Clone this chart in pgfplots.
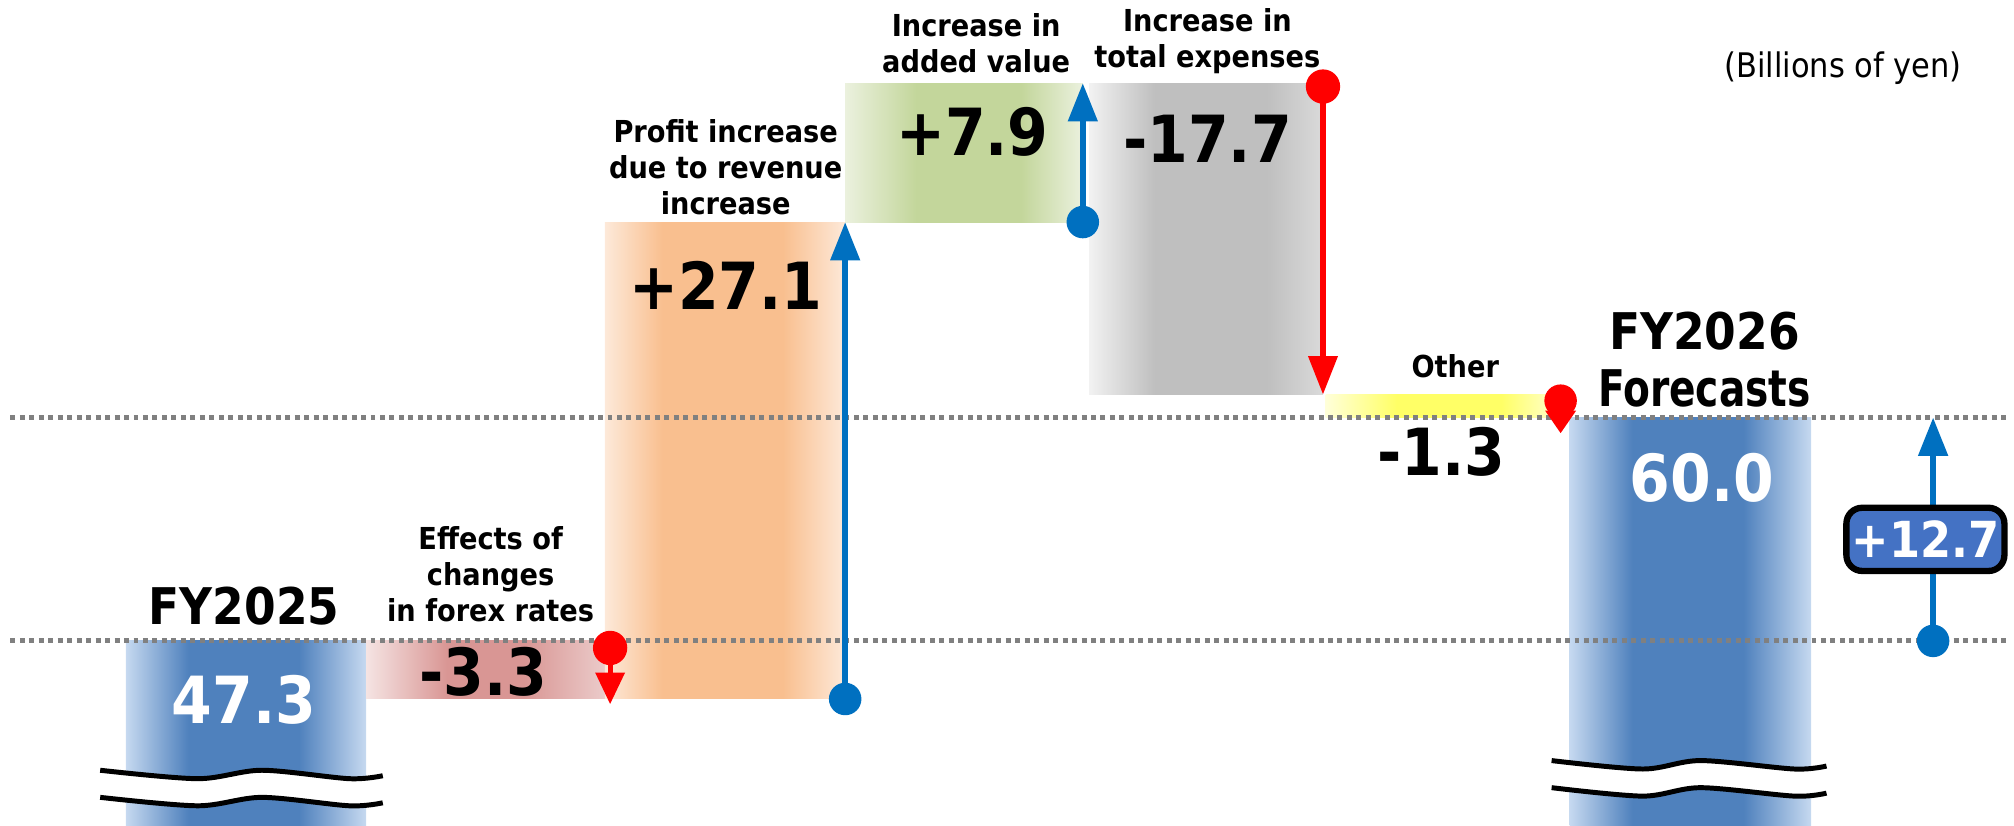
\documentclass[border=0pt]{standalone}
\usepackage{pgfplots}
\pgfplotsset{compat=1.18}
\usetikzlibrary{arrows.meta}
\usepackage{fontspec}
\setmainfont{DejaVu Sans Condensed}[BoldFont={DejaVu Sans Condensed Bold}]

\definecolor{blueD}{HTML}{4F81BD}\definecolor{blueL}{HTML}{C6D9F0}
\definecolor{orD}{HTML}{F9BF8F}\definecolor{orL}{HTML}{FDE9D9}
\definecolor{pkD}{HTML}{D99694}\definecolor{pkL}{HTML}{F5E4E3}\definecolor{pkR}{HTML}{EBCBCA}
\definecolor{grD}{HTML}{C3D69B}\definecolor{grL}{HTML}{EBF1DE}
\definecolor{gyD}{HTML}{BFBFBF}\definecolor{gyL}{HTML}{F2F2F2}\definecolor{gyR}{HTML}{DADADA}
\definecolor{ylD}{HTML}{FFFF66}\definecolor{ylL}{HTML}{FFFFD9}
\definecolor{arrB}{HTML}{0070C0}
\definecolor{arrR}{HTML}{FF0000}
\definecolor{boxB}{HTML}{4472C4}
\definecolor{dotG}{HTML}{808080}

\pgfdeclarehorizontalshading{shBlue}{100bp}{color(0bp)=(blueL); color(25bp)=(blueL); color(38bp)=(blueD); color(61bp)=(blueD); color(75bp)=(blueL); color(100bp)=(blueL)}
\pgfdeclarehorizontalshading{shOr}{100bp}{color(0bp)=(orL); color(25bp)=(orL); color(37bp)=(orD); color(62bp)=(orD); color(75bp)=(orL); color(100bp)=(orL)}
\pgfdeclarehorizontalshading{shPk}{100bp}{color(0bp)=(pkL); color(25bp)=(pkL); color(42bp)=(pkD); color(58bp)=(pkD); color(75bp)=(pkR); color(100bp)=(pkR)}
\pgfdeclarehorizontalshading{shGr}{100bp}{color(0bp)=(grL); color(25bp)=(grL); color(40bp)=(grD); color(62bp)=(grD); color(75bp)=(grL); color(100bp)=(grL)}
\pgfdeclarehorizontalshading{shGy}{100bp}{color(0bp)=(gyL); color(25bp)=(gyL); color(39bp)=(gyD); color(63bp)=(gyD); color(75bp)=(gyR); color(100bp)=(gyR)}
\pgfdeclarehorizontalshading{shYl}{100bp}{color(0bp)=(ylL); color(25bp)=(ylL); color(40bp)=(ylD); color(62bp)=(ylD); color(75bp)=(ylL); color(100bp)=(ylL)}

\newcommand{\lbl}{\bfseries\fontsize{6.7}{8}\selectfont}
\newcommand{\numf}{\bfseries\fontsize{14.4}{16}\selectfont}
\newcommand{\fyf}{\bfseries\fontsize{11.2}{12.5}\selectfont}

\begin{document}
\begin{tikzpicture}
\begin{axis}[scale only axis, width=15.68cm, height=6.43cm,
  xmin=0, xmax=1568, ymin=36.79, ymax=83.72, hide axis]
% bars (x in layout units, y in billions of yen)
\addplot[draw=none, shade, shading=shBlue] coordinates {(98,36.79) (285,36.79) (285,47.3) (98,47.3)} -- cycle;
\addplot[draw=none, shade, shading=shPk] coordinates {(285,44.0) (471,44.0) (471,47.3) (285,47.3)} -- cycle;
\addplot[draw=none, shade, shading=shOr] coordinates {(471,44.0) (658,44.0) (658,71.1) (471,71.1)} -- cycle;
\addplot[draw=none, shade, shading=shGr] coordinates {(658,71.1) (843,71.1) (843,79.0) (658,79.0)} -- cycle;
\addplot[draw=none, shade, shading=shGy] coordinates {(848,61.3) (1030,61.3) (1030,79.0) (848,79.0)} -- cycle;
\addplot[draw=none, shade, shading=shYl] coordinates {(1032,60.0) (1217,60.0) (1217,61.3) (1032,61.3)} -- cycle;
\addplot[draw=none, shade, shading=shBlue] coordinates {(1222,36.79) (1410,36.79) (1410,60.0) (1222,60.0)} -- cycle;
% reference levels
\addplot[dotG, line width=1.1pt, dash pattern=on 1.1pt off 1pt] coordinates {(8,47.3) (1565,47.3)};
\addplot[dotG, line width=1.1pt, dash pattern=on 1.1pt off 1pt] coordinates {(8,60.0) (1565,60.0)};
% axis breaks
\addplot[white, line width=6pt, smooth] coordinates {(78,39.18) (154,38.70) (204,39.18) (272,38.70) (298,38.87)};
\addplot[black, line width=1.1pt, smooth] coordinates {(78,39.95) (154,39.47) (204,39.95) (272,39.47) (298,39.64)};
\addplot[black, line width=1.1pt, smooth] coordinates {(78,38.41) (154,37.93) (204,38.41) (272,37.93) (298,38.10)};
\addplot[white, line width=6pt, smooth] coordinates {(1208,39.73) (1279,39.25) (1324,39.73) (1397,39.25) (1422,39.42)};
\addplot[black, line width=1.1pt, smooth] coordinates {(1208,40.50) (1279,40.02) (1324,40.50) (1397,40.02) (1422,40.19)};
\addplot[black, line width=1.1pt, smooth] coordinates {(1208,38.96) (1279,38.48) (1324,38.96) (1397,38.48) (1422,38.65)};
% arrows
\addplot[arrR, line width=1.1pt, -{Triangle[length=7pt,width=6.3pt]}] coordinates {(475,46.9) (475,43.7)};
\addplot[only marks, mark=*, mark size=3.6pt, arrR] coordinates {(475,46.9)};
\addplot[arrB, line width=1.4pt, -{Triangle[length=8.5pt,width=6.3pt]}] coordinates {(658,44.0) (658,71.1)};
\addplot[only marks, mark=*, mark size=3.4pt, arrB] coordinates {(658,44.0)};
\addplot[arrB, line width=1.4pt, -{Triangle[length=8.5pt,width=6.3pt]}] coordinates {(843,71.1) (843,79.0)};
\addplot[only marks, mark=*, mark size=3.4pt, arrB] coordinates {(843,71.1)};
\addplot[arrR, line width=1.2pt, -{Triangle[length=8.5pt,width=6.3pt]}] coordinates {(1030,78.8) (1030,61.3)};
\addplot[only marks, mark=*, mark size=3.6pt, arrR] coordinates {(1030,78.8)};
\addplot[arrR, line width=1pt, -{Triangle[length=5pt,width=6.6pt]}] coordinates {(1215,60.95) (1215,59.1)};
\addplot[only marks, mark=*, mark size=3.4pt, arrR] coordinates {(1215,60.95)};
\addplot[arrB, line width=1.4pt, -{Triangle[length=8.5pt,width=6.3pt]}] coordinates {(1505,47.3) (1505,60.0)};
\addplot[only marks, mark=*, mark size=3.4pt, arrB] coordinates {(1505,47.3)};
% labels
\node[font=\fyf] at (axis cs:190,49.27) {FY2025};
\node[font=\numf, text=white] at (axis cs:190,43.94) {47.3};
\node[font=\lbl, align=center] at (axis cs:382,51.1) {Effects of\\changes\\in forex rates};
\node[font=\numf] at (axis cs:376,45.55) {-3.3};
\node[font=\lbl, align=center] at (axis cs:565,74.23) {Profit increase\\due to revenue\\increase};
\node[font=\numf] at (axis cs:565,67.52) {+27.1};
\node[font=\lbl, align=center] at (axis cs:760,81.24) {Increase in\\added value};
\node[font=\numf] at (axis cs:757,76.2) {+7.9};
\node[font=\lbl, align=center] at (axis cs:940,81.39) {Increase in\\total expenses};
\node[font=\numf] at (axis cs:940,75.84) {-17.7};
\node[font=\lbl] at (axis cs:1133,62.92) {Other};
\node[font=\numf] at (axis cs:1122,58.03) {-1.3};
\node[font=\fyf, align=center] at (axis cs:1327,63.29) {FY2026\\{\addfontfeatures{FakeStretch=0.86}Forecasts}};
\node[font=\numf, text=white] at (axis cs:1325,56.57) {60.0};
\node[font=\fontsize{7.5}{9}\selectfont] at (axis cs:1435,79.85) {(Billions of yen)};
\node[font=\bfseries\fontsize{11}{12}\selectfont, text=white, fill=boxB, draw=black, line width=1.4pt,
  rounded corners=3.5pt, minimum width=35pt, minimum height=14pt, inner sep=1pt] at (axis cs:1499,53.07) {+12.7};
\path (rel axis cs:0,0) rectangle (rel axis cs:1,1);
\end{axis}
\end{tikzpicture}
\end{document}
